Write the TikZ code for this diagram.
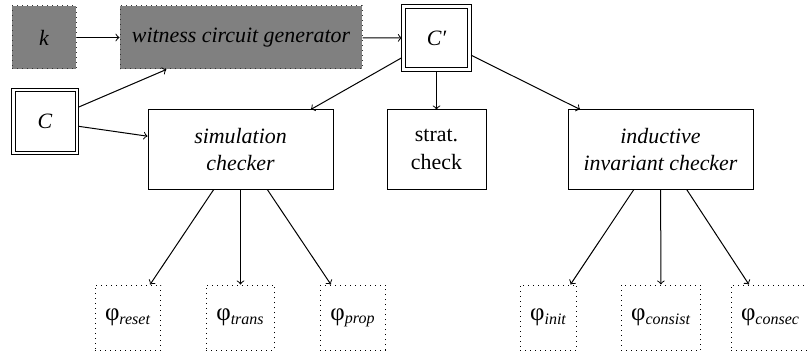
\documentclass[tikz,border=0pt,11pt]{standalone}
\usepackage{fontspec}
\setmainfont{Liberation Serif}
\newfontfamily\timesfont{Liberation Serif}
\usepackage{tikz}
\usetikzlibrary{positioning}
\tikzstyle{gen} = [rectangle, draw=black!80, dotted, fill=black!50, minimum height=31.5pt, text centered, font=\timesfont\itshape]
\tikzstyle{circuit} = [rectangle, draw=black, minimum width=30pt, minimum height=29.5pt, outer sep=1.8pt, font=\timesfont\itshape]
\tikzstyle{process} = [rectangle, draw=black, minimum height=39.5pt, align=center, font=\timesfont]
\tikzstyle{formula} = [rectangle, draw=black, dotted, minimum height=32.5pt, inner xsep=5pt, font=\timesfont]
\tikzstyle{arrow} = [->]
\newcommand{\phisub}[1]{{\fontsize{12.5}{13}\selectfont φ}\textsubscript{\itshape #1}}

\begin{document}
\begin{tikzpicture}[x=0.5pt, y=-0.5pt, line width=0.5pt]
\useasboundingbox (0,0) rectangle (808,353);

% Nodes
\node (k) [gen, minimum width=32pt] at (44,37.5) {k};
\node (gen) [gen, minimum width=121pt] at (241,37.5) {witness circuit generator};
\node (cprime) [circuit, minimum width=31pt] at (436.5,38) {C′};
\node (circ) [circuit] at (45,121.5) {C};
\node (sim) [process, minimum width=92.5pt, font=\timesfont\itshape] at (240.5,149.5) {simulation\\checker};
\node (strat) [process, minimum width=49.5pt] at (436.5,149.5) {strat.\\check};
\node (ind) [process, minimum width=92.5pt, font=\timesfont\itshape] at (660.5,149.5) {inductive\\invariant checker};
\node (reset) [formula] at (128,317.5) {\phisub{reset}};
\node (trans) [formula] at (240.5,317.5) {\phisub{trans}};
\node (prop) [formula] at (353,317.5) {\phisub{prop}};
\node (init) [formula] at (548.5,317.5) {\phisub{init}};
\node (consist) [formula] at (661,317.5) {\phisub{consist}};
\node (consec) [formula] at (770.5,317.5) {\phisub{consec}};

% outer frame of the circuit boxes
\foreach \n in {cprime,circ}
  \draw (\n.south west) rectangle (\n.north east);

% Arrows
\draw [arrow] (k) -- (gen);
\draw [arrow] (gen) -- (cprime);
\draw [arrow] (circ) -- (gen);
\draw [arrow] (circ) -- (sim);
\draw [arrow] (cprime) -- (sim);
\draw [arrow] (cprime) -- (strat);
\draw [arrow] (cprime) -- (ind);
\draw [arrow] (sim) -- (reset);
\draw [arrow] (sim) -- (trans);
\draw [arrow] (sim) -- (prop);
\draw [arrow] (ind) -- (init);
\draw [arrow] (ind) -- (consist);
\draw [arrow] (ind) -- (consec);

\end{tikzpicture}
\end{document}
